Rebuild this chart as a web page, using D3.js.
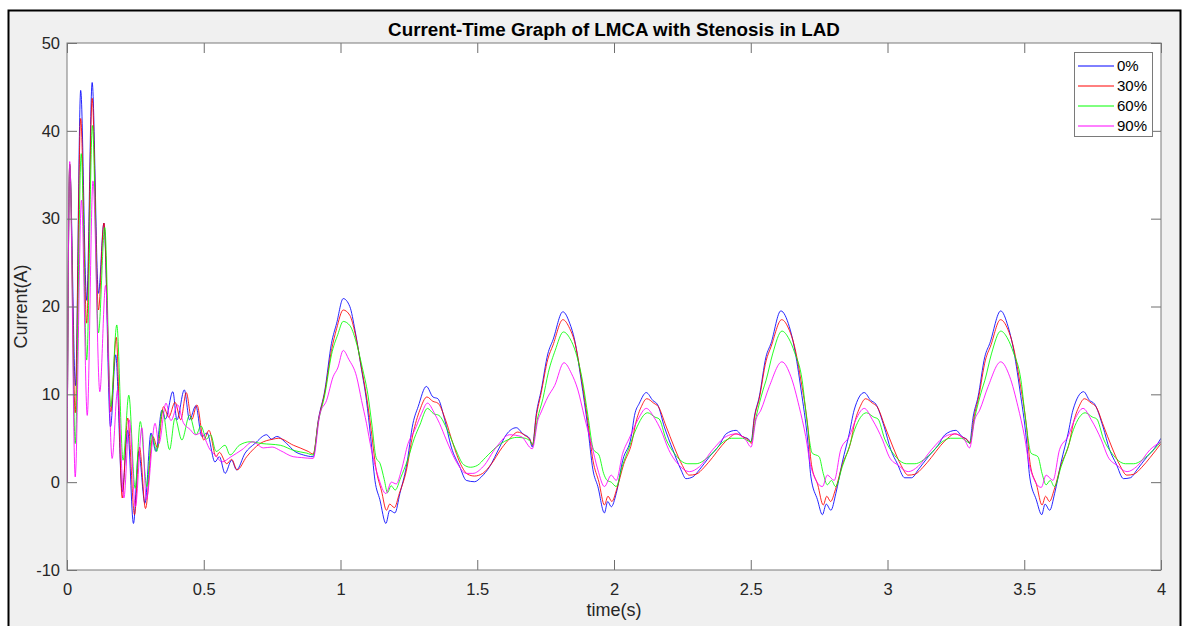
<!DOCTYPE html>
<html lang="en">
<head>
<meta charset="utf-8">
<title>Current-Time Graph of LMCA with Stenosis in LAD</title>
<script src="https://d3js.org/d3.v7.min.js"></script>
<style>
  body { margin: 0; background: #fff; }
  svg { display: block; font-family: "Liberation Sans", Arial, sans-serif; }
  .tick text { fill: #262626; font-size: 16.5px; }
  .tick line { stroke: #6e6e6e; }
</style>
</head>
<body>
<script>
// data: [time (s), current (A)]
const xTicks = [0, 0.5, 1, 1.5, 2, 2.5, 3, 3.5, 4];
const yTicks = [-10, 0, 10, 20, 30, 40, 50];
const labels = ["0%", "30%", "60%", "90%"];
const colors = ["#0000ff", "#ff0000", "#00ff00", "#ff00ff"];

const sten0 = [
  [0,0],[0.01,36],[0.031,11],[0.05,44.6],[0.072,20.7],[0.092,45.5],[0.115,21.5],[0.135,29.5],[0.159,6.3],[0.178,14.5],
  [0.202,-1.1],[0.222,5.9],[0.243,-4.7],[0.262,3.5],[0.285,-2.4],[0.307,5.6],[0.325,3.5],[0.347,8.2],[0.36,7.2],[0.387,10.3],
  [0.402,7.1],[0.429,10.5],[0.448,7.1],[0.471,8.7],[0.493,5.2],[0.512,5.6],[0.541,2.3],[0.557,2.9],[0.578,1.0],[0.602,2.5],
  [0.62,1.4],[0.651,3.3],[0.687,4.4],[0.73,5.4],[0.747,4.9],[0.767,5.2],[0.803,4.4],[0.833,3.5],[0.864,3.1],[0.9,2.9],
  [0.919,7.1],[0.943,10.5],[0.967,15.8],[0.986,18.1],[1.01,20.9],[1.034,20.0],[1.053,17.3],[1.077,12.8],[1.095,9.3],[1.11,5.2],
  [1.126,0.2],[1.144,-2.0],[1.166,-4.7],[1.18,-3.2],[1.199,-3.5],[1.217,-1.3],[1.241,1.8],[1.265,6.7],[1.284,8.6],[1.314,10.9],
  [1.338,9.7],[1.356,9.5],[1.381,7.1],[1.405,4.0],[1.436,1.75],[1.46,0.2],[1.49,0.05],[1.515,0.6],[1.545,1.75],[1.582,4.0],
  [1.606,5.4],[1.643,6.2],[1.667,5.5],[1.691,5.0],[1.701,4.0],
  [1.716,7.8],[1.734,10.5],[1.758,14.6],[1.777,16.2],[1.813,19.4],[1.838,18.1],[1.856,16.2],[1.88,11.6],[1.904,6.3],[1.923,1.4],
  [1.941,-0.5],[1.965,-3.5],[1.977,-2.2],[1.99,-2.8],[2.008,-1.3],[2.032,2.5],[2.063,5.2],[2.075,7.6],[2.093,9.0],[2.118,10.2],
  [2.142,9.3],[2.16,8.8],[2.184,6.3],[2.215,3.7],[2.245,1.4],[2.263,0.4],[2.288,0.6],[2.312,1.4],[2.349,2.9],[2.385,4.2],
  [2.41,5.5],[2.446,5.9],[2.47,5.2],[2.492,4.9],[2.501,4.6],
  [2.513,7.4],[2.531,9.7],[2.556,14.3],[2.574,15.8],[2.61,19.5],[2.641,17.7],[2.659,15.4],[2.684,10.5],[2.708,4.8],[2.72,0.6],
  [2.744,-2.0],[2.762,-3.7],[2.776,-2.5],[2.793,-3.2],[2.811,-1.3],[2.835,2.3],[2.86,5.5],[2.878,8.2],[2.915,10.2],[2.939,9.3],
  [2.957,8.9],[2.988,6.3],[3.012,3.7],[3.036,2.1],[3.063,0.5],[3.088,0.5],[3.112,1.4],[3.149,2.9],[3.185,4.2],[3.21,5.4],
  [3.25,5.9],[3.272,5.2],[3.292,4.8],[3.3,4.4],
  [3.313,7.4],[3.331,9.7],[3.356,14.3],[3.374,15.8],[3.414,19.5],[3.441,17.7],[3.459,15.4],[3.484,10.5],[3.508,4.8],[3.52,0.6],
  [3.544,-2.0],[3.564,-3.7],[3.576,-2.5],[3.593,-3.2],[3.611,-1.3],[3.635,2.3],[3.66,5.5],[3.678,8.2],[3.717,10.3],[3.739,9.3],
  [3.757,8.9],[3.788,6.3],[3.812,3.7],[3.836,2.1],[3.863,0.4],[3.888,0.5],[3.912,1.4],[3.949,2.9],[3.975,3.8],[4.0,5.0]
];

const sten30 = [
  [0,0],[0.01,36.2],[0.03,7.9],[0.05,41.4],[0.072,18.1],[0.092,43.7],[0.115,19.6],[0.135,29.5],[0.16,8.0],[0.18,16.5],
  [0.202,-1.8],[0.222,7.3],[0.247,-3.7],[0.265,4.0],[0.287,-3.0],[0.314,5.2],[0.331,3.9],[0.353,8.6],[0.372,7.4],[0.395,9.1],
  [0.416,7.1],[0.436,10.2],[0.456,7.1],[0.475,8.8],[0.5,4.8],[0.519,5.9],[0.545,2.9],[0.557,3.4],[0.584,2.1],[0.602,2.6],
  [0.622,1.4],[0.657,2.9],[0.706,4.4],[0.754,4.9],[0.773,5.0],[0.828,4.2],[0.882,3.5],[0.9,3.2],
  [0.919,7.0],[0.943,10.3],[0.967,15.0],[0.986,17.5],[1.01,19.6],[1.034,19.0],[1.053,17.0],[1.077,13.0],[1.095,9.8],[1.11,6.5],
  [1.13,1.5],[1.15,-1.0],[1.168,-3.2],[1.18,-2.5],[1.197,-2.9],[1.215,-1.3],[1.24,1.2],[1.265,5.5],[1.29,8.2],[1.316,9.7],
  [1.338,9.2],[1.356,9.0],[1.385,7.0],[1.41,4.5],[1.44,2.0],[1.465,0.9],[1.49,0.7],[1.52,1.0],[1.55,2.0],[1.59,3.9],
  [1.62,5.0],[1.648,5.7],[1.675,5.3],[1.695,4.7],[1.702,4.2],
  [1.716,7.5],[1.734,10.2],[1.758,14.0],[1.777,15.6],[1.813,18.5],[1.838,17.5],[1.856,16.0],[1.88,12.0],[1.904,7.0],[1.923,2.5],
  [1.945,0.0],[1.965,-2.6],[1.978,-1.6],[1.992,-2.2],[2.01,-0.8],[2.035,2.0],[2.065,4.5],[2.08,6.8],[2.1,8.6],[2.12,9.5],
  [2.145,9.0],[2.162,8.6],[2.19,6.4],[2.22,4.0],[2.25,1.9],[2.275,0.8],[2.3,0.9],[2.33,1.7],[2.36,2.8],[2.395,4.2],
  [2.42,5.0],[2.446,5.5],[2.475,5.1],[2.495,4.7],[2.502,4.4],
  [2.513,7.2],[2.531,9.5],[2.556,13.8],[2.574,15.4],[2.613,18.5],[2.641,17.3],[2.659,15.6],[2.684,11.5],[2.708,6.5],[2.722,2.0],
  [2.745,-0.3],[2.765,-2.6],[2.778,-1.6],[2.792,-2.2],[2.81,-0.8],[2.835,2.0],[2.865,4.5],[2.88,6.8],[2.9,8.6],[2.92,9.5],
  [2.945,9.0],[2.962,8.6],[2.99,6.4],[3.02,4.0],[3.05,1.9],[3.075,0.8],[3.1,0.9],[3.13,1.7],[3.16,2.8],[3.195,4.2],
  [3.22,5.0],[3.246,5.5],[3.275,5.1],[3.295,4.7],[3.302,4.4],
  [3.316,7.3],[3.334,9.8],[3.358,13.9],[3.377,15.5],[3.413,18.5],[3.44,17.4],[3.458,15.7],[3.484,11.4],[3.508,6.4],[3.522,2.0],
  [3.545,-0.3],[3.565,-2.6],[3.578,-1.6],[3.592,-2.2],[3.61,-0.8],[3.635,2.0],[3.665,4.5],[3.68,6.8],[3.7,8.6],[3.72,9.5],
  [3.745,9.0],[3.762,8.6],[3.79,6.4],[3.82,4.0],[3.85,1.9],[3.875,0.8],[3.9,0.9],[3.93,1.7],[3.96,2.8],[4.0,4.4]
];

const sten60 = [
  [0,0],[0.01,36.2],[0.03,4.4],[0.052,37.4],[0.072,13.9],[0.093,40.6],[0.115,17.0],[0.138,29.0],[0.16,8.6],[0.182,17.9],
  [0.205,2.5],[0.226,9.9],[0.249,-0.7],[0.268,6.9],[0.292,-0.5],[0.31,5.4],[0.328,3.5],[0.349,8.2],[0.375,3.7],[0.395,7.3],
  [0.42,4.8],[0.448,7.6],[0.472,5.4],[0.49,6.4],[0.51,4.9],[0.525,5.4],[0.545,3.5],[0.578,4.2],[0.596,3.1],[0.63,4.2],
  [0.67,4.6],[0.712,4.4],[0.78,4.2],[0.83,3.6],[0.877,3.3],[0.9,3.1],
  [0.92,7.0],[0.943,10.0],[0.967,14.5],[0.99,16.8],[1.01,18.3],[1.035,17.8],[1.055,16.2],[1.08,13.0],[1.1,10.0],[1.115,6.5],
  [1.13,2.8],[1.145,2.1],[1.16,0.3],[1.172,-1.2],[1.185,-0.4],[1.2,-0.9],[1.22,0.5],[1.245,2.5],[1.27,5.0],[1.29,6.5],
  [1.318,8.4],[1.34,7.8],[1.36,7.6],[1.39,6.0],[1.42,3.8],[1.45,2.0],[1.475,1.7],[1.5,1.9],[1.53,2.8],[1.57,4.0],
  [1.61,4.8],[1.645,5.1],[1.675,5.0],[1.695,4.6],[1.702,4.3],
  [1.72,7.2],[1.74,9.5],[1.76,12.5],[1.785,15.0],[1.815,17.1],[1.84,16.3],[1.86,14.8],[1.885,11.5],[1.905,7.5],[1.925,3.7],
  [1.945,3.1],[1.962,1.0],[1.975,0.2],[1.99,0.0],[2.008,-0.5],[2.03,1.8],[2.056,4.0],[2.08,6.0],[2.123,7.9],[2.15,7.4],
  [2.165,7.2],[2.19,4.9],[2.22,3.3],[2.27,2.1],[2.3,2.1],[2.35,3.0],[2.4,4.6],[2.43,5.0],[2.47,5.0],[2.5,4.6],
  [2.52,7.5],[2.545,10.5],[2.556,11.6],[2.58,14.6],[2.614,17.2],[2.64,16.3],[2.66,14.8],[2.688,11.6],[2.705,7.1],[2.725,3.3],
  [2.75,2.9],[2.765,1.0],[2.78,-0.3],[2.795,0.2],[2.81,-0.5],[2.835,1.8],[2.86,4.0],[2.88,6.0],[2.923,7.9],[2.95,7.4],
  [2.965,7.2],[2.99,4.9],[3.02,3.3],[3.07,2.1],[3.1,2.1],[3.15,3.0],[3.2,4.6],[3.23,5.0],[3.27,5.0],[3.3,4.5],
  [3.32,7.5],[3.345,10.5],[3.356,11.6],[3.38,14.6],[3.414,17.2],[3.44,16.3],[3.46,14.8],[3.488,11.6],[3.505,7.1],[3.525,3.3],
  [3.55,2.9],[3.565,1.0],[3.58,-0.3],[3.595,0.2],[3.61,-0.5],[3.635,1.8],[3.66,4.0],[3.68,6.0],[3.723,7.9],[3.75,7.4],
  [3.765,7.2],[3.79,4.9],[3.82,3.3],[3.87,2.1],[3.9,2.1],[3.95,3.0],[4.0,4.6]
];

const sten90 = [
  [0,0],[0.01,36.5],[0.03,0.6],[0.053,32.1],[0.074,7.6],[0.095,34.3],[0.12,10.3],[0.141,22.4],[0.165,2.7],[0.185,10.5],
  [0.208,-1.8],[0.228,7.1],[0.25,-2.8],[0.274,6.2],[0.29,-2.0],[0.322,6.7],[0.336,4.4],[0.362,9.0],[0.38,7.0],[0.405,8.8],
  [0.425,6.8],[0.45,6.0],[0.47,5.4],[0.49,5.6],[0.523,3.7],[0.545,3.0],[0.566,2.3],[0.6,2.9],[0.64,3.7],[0.68,4.6],
  [0.718,3.9],[0.75,4.0],[0.78,3.6],[0.827,2.9],[0.858,2.8],[0.9,2.7],
  [0.925,7.8],[0.949,9.3],[0.973,12.0],[0.99,13.0],[1.01,15.0],[1.03,14.0],[1.059,12.0],[1.077,9.3],[1.095,6.7],[1.113,3.7],
  [1.138,0.6],[1.166,-1.3],[1.186,0.0],[1.204,-0.2],[1.223,1.4],[1.247,4.4],[1.271,5.9],[1.296,7.8],[1.318,9.0],[1.344,7.8],
  [1.362,6.7],[1.387,4.8],[1.424,2.3],[1.46,1.0],[1.484,1.0],[1.521,1.75],[1.57,4.0],[1.618,5.4],[1.66,5.2],[1.701,3.8],
  [1.722,7.1],[1.734,8.0],[1.758,9.7],[1.783,11.0],[1.817,13.6],[1.844,12.4],[1.868,10.5],[1.892,7.4],[1.917,4.4],[1.941,1.4],
  [1.965,-0.5],[1.99,0.8],[2.008,0.2],[2.032,3.3],[2.056,5.0],[2.087,7.1],[2.118,8.4],[2.148,7.3],[2.172,5.9],[2.2,3.7],
  [2.239,1.9],[2.276,1.2],[2.312,1.75],[2.361,3.7],[2.41,5.2],[2.446,5.5],[2.482,4.8],[2.501,4.0],
  [2.519,7.1],[2.537,8.2],[2.568,10.9],[2.614,13.7],[2.647,12.0],[2.677,8.6],[2.701,5.2],[2.72,1.75],[2.762,-0.5],[2.78,0.8],
  [2.805,0.2],[2.829,3.7],[2.86,5.2],[2.884,7.1],[2.915,8.4],[2.945,7.1],[2.982,4.8],[3.006,2.9],[3.04,1.9],[3.076,1.2],
  [3.112,1.8],[3.161,3.7],[3.21,5.2],[3.246,5.5],[3.282,4.8],[3.3,3.9],
  [3.319,7.1],[3.337,8.2],[3.368,10.9],[3.414,13.7],[3.447,12.0],[3.477,8.6],[3.501,5.2],[3.52,1.75],[3.562,-0.6],[3.58,0.8],
  [3.605,0.2],[3.629,3.7],[3.66,5.2],[3.684,7.1],[3.715,8.4],[3.745,7.1],[3.782,4.8],[3.806,2.9],[3.84,1.9],[3.876,1.2],
  [3.912,1.8],[3.96,3.7],[4.0,4.6]
];

const series = [sten0, sten30, sten60, sten90];

// layout
var W = 1184, H = 626;
var margin = {top: 43, right: 23, bottom: 56, left: 67};
var width = W - margin.left - margin.right,
    height = H - margin.top - margin.bottom;

var svg = d3.select("body").append("svg")
    .attr("width", W)
    .attr("height", H);

// figure window
svg.append("rect")
    .attr("x", 8.5).attr("y", 10.5)
    .attr("width", 1172).attr("height", 700)
    .attr("fill", "#f0f0f0")
    .attr("stroke", "#000")
    .attr("stroke-width", 2);

var g = svg.append("g")
    .attr("transform", "translate(" + margin.left + "," + margin.top + ")");

var x = d3.scaleLinear().domain([0, 4]).range([0, width]);
var y = d3.scaleLinear().domain([-10, 50]).range([height, 0]);

g.append("rect")
    .attr("width", width).attr("height", height)
    .attr("fill", "#fff");

g.append("clipPath").attr("id", "clip")
  .append("rect").attr("width", width).attr("height", height);

// lines
var line = d3.line()
    .x(function(d) { return x(d[0]); })
    .y(function(d) { return y(d[1]); })
    .curve(d3.curveMonotoneX);

g.append("g").attr("clip-path", "url(#clip)")
  .selectAll("path")
  .data(series)
  .enter().append("path")
    .attr("d", line)
    .attr("fill", "none")
    .attr("stroke", function(d, i) { return colors[i]; })
    .attr("stroke-width", 1)
    .attr("stroke-opacity", 0.85)
    .attr("stroke-linejoin", "round");

// axes, ticks inside like matlab
var fmt = function(d) { return String(d); };
g.append("g")
    .attr("transform", "translate(0," + height + ")")
    .call(d3.axisBottom(x).tickValues(xTicks).tickSize(-10).tickPadding(13).tickFormat(fmt));
g.append("g")
    .call(d3.axisLeft(y).tickValues(yTicks).tickSize(-10).tickPadding(7).tickFormat(fmt));
g.append("g")
    .call(d3.axisTop(x).tickValues(xTicks).tickSize(-10).tickFormat(""));
g.append("g")
    .attr("transform", "translate(" + width + ",0)")
    .call(d3.axisRight(y).tickValues(yTicks).tickSize(-10).tickFormat(""));
g.selectAll(".domain").remove();
g.selectAll(".tick text").attr("font-family", null).attr("font-size", null);

g.append("rect")
    .attr("width", width).attr("height", height)
    .attr("fill", "none")
    .attr("stroke", "#7a7a7a")
    .attr("stroke-width", 1);

// title and labels
svg.append("text")
    .attr("x", margin.left + width / 2).attr("y", 36)
    .attr("text-anchor", "middle")
    .attr("font-size", "18.8px").attr("font-weight", "bold")
    .attr("fill", "#000")
    .text("Current-Time Graph of LMCA with Stenosis in LAD");

svg.append("text")
    .attr("x", margin.left + width / 2).attr("y", 616)
    .attr("text-anchor", "middle")
    .attr("font-size", "18px")
    .attr("fill", "#262626")
    .text("time(s)");

svg.append("text")
    .attr("transform", "translate(27," + (margin.top + height / 2) + ") rotate(-90)")
    .attr("text-anchor", "middle")
    .attr("font-size", "18px")
    .attr("fill", "#262626")
    .text("Current(A)");

// legend
var lg = svg.append("g").attr("transform", "translate(1074,52)");
lg.append("rect")
    .attr("x", 0.5).attr("y", 0.5)
    .attr("width", 78).attr("height", 84)
    .attr("fill", "#fff")
    .attr("stroke", "#7a7a7a");
var item = lg.selectAll(".item")
    .data(labels)
  .enter().append("g")
    .attr("class", "item")
    .attr("transform", function(d, i) { return "translate(0," + (14 + i * 20) + ")"; });
item.append("line")
    .attr("x1", 4).attr("x2", 40)
    .attr("stroke", function(d, i) { return colors[i]; })
    .attr("stroke-width", 1);
item.append("text")
    .attr("x", 43).attr("dy", "0.35em")
    .attr("font-size", "15px")
    .attr("fill", "#000")
    .text(function(d) { return d; });
</script>
</body>
</html>
